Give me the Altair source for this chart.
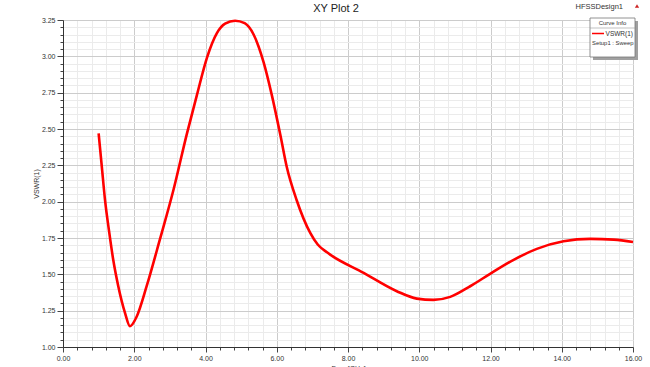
import altair as alt
import pandas as pd

# ---- data ----
freq = [1.00, 1.09, 1.18, 1.30, 1.41, 1.55, 1.74, 1.88, 2.07, 2.35, 2.72, 3.10,
        3.47, 3.76, 4.04, 4.32, 4.55, 4.83, 5.10, 5.35, 5.63, 5.86, 6.10, 6.28,
        6.56, 6.94, 7.15, 7.41, 7.50, 8.44, 9.37, 9.93, 10.40, 10.87, 11.43,
        12.00, 12.65, 13.30, 14.05, 14.80, 15.46, 16.00]
vswr = [2.47, 2.24, 2.01, 1.785, 1.60, 1.42, 1.235, 1.143, 1.21, 1.42, 1.74, 2.08,
        2.46, 2.735, 2.99, 3.16, 3.225, 3.245, 3.228, 3.15, 2.96, 2.735, 2.46, 2.24,
        2.01, 1.785, 1.705, 1.652, 1.636, 1.51, 1.384, 1.333, 1.324, 1.345, 1.418,
        1.505, 1.60, 1.675, 1.727, 1.744, 1.739, 1.723]

x_ticks = [round(0.4 * i, 2) for i in range(41)]
y_ticks = [round(1 + 0.05 * i, 2) for i in range(46)]

title_text = "XY Plot 2"
design_text = "HFSSDesign1"
legend_title = "Curve Info"
legend_series = "VSWR(1)"
legend_setup = "Setup1 : Sweep"

df = pd.DataFrame({"freq": freq, "vswr": vswr})

FONT = "Liberation Sans"
W, H = 570, 327

x_major = "abs(datum.value/2 - round(datum.value/2)) < 0.001"
y_major = "abs(datum.value*4 - round(datum.value*4)) < 0.001"

x_axis = alt.Axis(
    values=x_ticks,
    labelExpr=f"{x_major} ? format(datum.value, '.2f') : ''",
    labelOverlap=False, labelFlush=False,
    labelFontSize=7, labelFont=FONT, labelColor="#333",
    labelPadding=2,
    tickColor="#444",
    tickSize={"condition": {"test": x_major, "value": 5}, "value": 3},
    gridColor={"condition": {"test": x_major, "value": "#cccccc"}, "value": "#ebebeb"},
    gridWidth=1,
    domainColor="#333",
    title="Freq [GHz]", titleFont=FONT, titleFontSize=7, titleFontWeight="normal",
    titleColor="#333", titlePadding=3,
)
y_axis = alt.Axis(
    values=y_ticks,
    labelExpr=f"{y_major} ? format(datum.value, '.2f') : ''",
    labelOverlap=False, labelFlush=False,
    labelFontSize=7, labelFont=FONT, labelColor="#333",
    labelPadding=2,
    tickColor="#444",
    tickSize={"condition": {"test": y_major, "value": 6}, "value": 3},
    gridColor={"condition": {"test": y_major, "value": "#cccccc"}, "value": "#ebebeb"},
    gridWidth=1,
    domainColor="#333",
    title="VSWR(1)", titleFont=FONT, titleFontSize=7, titleFontWeight="normal",
    titleColor="#333", titlePadding=2,
)

line = alt.Chart(df).mark_line(
    color="#ff0000", strokeWidth=2.6, interpolate="monotone"
).encode(
    x=alt.X("freq:Q", scale=alt.Scale(domain=[0, 16], nice=False, zero=False), axis=x_axis),
    y=alt.Y("vswr:Q", scale=alt.Scale(domain=[1, 3.25], nice=False, zero=False), axis=y_axis),
)

# ---- annotations: title, design name and legend box ----
one = pd.DataFrame({"a": [0]})

title = alt.Chart(pd.DataFrame({"t": [title_text]})).mark_text(
    font=FONT, fontSize=11, color="#222", align="center", baseline="middle"
).encode(x=alt.value(273), y=alt.value(-11), text="t:N")

design = alt.Chart(pd.DataFrame({"t": [design_text]})).mark_text(
    font=FONT, fontSize=7.5, color="#333", align="right", baseline="middle"
).encode(x=alt.value(560), y=alt.value(-13), text="t:N")

tri = alt.Chart(one).mark_point(
    shape="triangle-up", filled=True, color="#cc2222", size=18, opacity=1
).encode(x=alt.value(574), y=alt.value(-14))

shadow = alt.Chart(one).mark_rect(color="#a0a0a0").encode(
    x=alt.value(530), x2=alt.value(575), y=alt.value(1), y2=alt.value(40)
)
box = alt.Chart(one).mark_rect(color="white", stroke="#777", strokeWidth=0.8).encode(
    x=alt.value(527), x2=alt.value(572), y=alt.value(-2), y2=alt.value(37)
)
divider = alt.Chart(one).mark_rule(color="#999", strokeWidth=0.6).encode(
    x=alt.value(527), x2=alt.value(572), y=alt.value(8)
)
leg_title = alt.Chart(pd.DataFrame({"t": [legend_title]})).mark_text(
    font=FONT, fontSize=6, color="#333", align="center", baseline="middle"
).encode(x=alt.value(549.5), y=alt.value(3), text="t:N")
leg_line = alt.Chart(one).mark_rule(color="#ff0000", strokeWidth=1.5).encode(
    x=alt.value(529), x2=alt.value(541), y=alt.value(13.5)
)
leg_series = alt.Chart(pd.DataFrame({"t": [legend_series]})).mark_text(
    font=FONT, fontSize=6.5, color="#333", align="right", baseline="middle"
).encode(x=alt.value(570), y=alt.value(13.5), text="t:N")
leg_setup = alt.Chart(pd.DataFrame({"t": [legend_setup]})).mark_text(
    font=FONT, fontSize=5.9, color="#333", align="left", baseline="middle"
).encode(x=alt.value(529), y=alt.value(23), text="t:N")

chart = alt.layer(
    line, title, design, tri, shadow, box, divider, leg_title, leg_line, leg_series, leg_setup
).properties(
    width=W, height=H,
    autosize=alt.AutoSizeParams(type="none"),
    padding={"left": 63, "top": 20, "right": 17, "bottom": 20},
).configure_view(
    stroke="#888", strokeWidth=1
).configure(background="white")

chart.save("out.html", embed_options={"renderer": "svg", "actions": False})
